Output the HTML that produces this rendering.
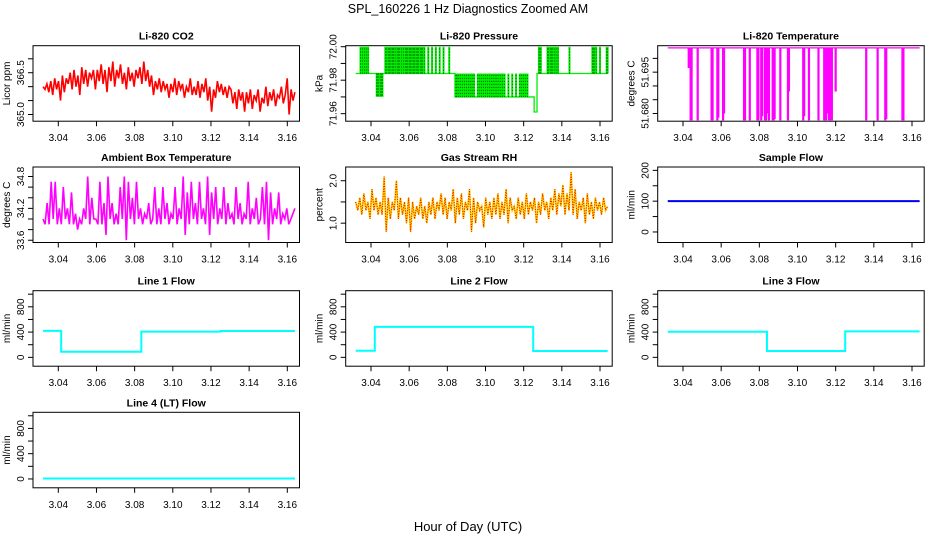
<!DOCTYPE html>
<html><head><meta charset="utf-8"><style>
html,body{margin:0;padding:0;background:#fff;}
svg{display:block;font-family:"Liberation Sans",sans-serif;}
</style></head><body>
<svg id="chart" width="936" height="540" viewBox="0 0 936 540" xmlns="http://www.w3.org/2000/svg">
<text x="468" y="13" font-size="12.5" text-anchor="middle">SPL_160226  1 Hz Diagnostics Zoomed AM</text>
<text x="468" y="531" font-size="13" text-anchor="middle">Hour of Day (UTC)</text>
</svg>
<script>
// ---- data arrays ----
const xTicks = [3.04, 3.06, 3.08, 3.10, 3.12, 3.14, 3.16];
const tStart = 3.032, tEnd = 3.164;
const co2Values = [366.0,365.9,366.1,365.8,366.2,365.7,366.3,365.9,366.2,365.5,366.4,365.8,366.3,
366.1,366.5,365.9,366.6,366.0,366.4,365.7,366.7,366.1,366.6,366.0,366.5,366.3,
366.6,365.9,366.6,366.2,366.8,366.1,366.6,365.8,366.7,366.2,366.9,366.0,366.6,
366.3,366.8,366.1,366.5,365.9,366.7,366.2,366.5,366.0,366.6,366.3,366.7,366.1,
366.9,366.2,366.6,366.0,366.4,365.7,366.2,365.9,366.3,365.8,366.2,365.9,366.1,
365.6,366.1,365.8,366.3,365.7,366.2,365.9,366.1,365.6,366.0,365.8,366.3,365.7,
366.0,365.7,366.2,365.6,366.1,365.8,366.3,365.5,366.0,365.1,365.9,365.6,366.2,
365.8,366.1,365.7,366.0,365.6,366.0,365.9,365.4,365.8,365.2,365.9,365.5,365.8,
365.1,365.8,365.4,365.9,365.2,365.7,365.5,365.9,365.1,365.6,365.4,366.0,365.3,
365.8,365.5,365.9,365.3,365.7,365.6,366.0,365.4,365.7,366.3,365.0,365.9,365.5,365.8];
const ambientValues = [34.0,33.9,34.3,33.9,34.7,34.0,34.7,33.9,34.2,33.9,34.6,34.0,34.2,
33.9,34.5,33.9,34.1,33.8,34.0,33.9,34.2,34.0,34.8,33.9,34.4,34.0,34.0,
33.9,34.7,33.9,34.3,33.7,34.8,34.0,34.3,33.9,34.1,33.9,34.6,34.0,34.8,
33.6,34.7,34.0,34.4,33.9,34.7,34.0,34.2,33.9,34.1,34.0,34.3,33.9,34.0,
34.6,33.9,34.2,33.9,34.6,34.0,34.3,33.9,34.1,34.0,34.6,33.9,34.2,34.0,
34.8,33.7,34.5,33.9,34.7,34.0,34.3,33.9,34.7,34.0,34.2,33.9,34.8,33.7,
34.5,34.0,34.6,33.9,34.2,34.0,34.6,33.9,34.3,34.0,34.1,33.9,34.6,34.0,
34.3,33.9,34.1,34.0,34.7,33.9,34.2,34.0,34.4,33.9,34.0,34.6,33.9,34.7,
33.6,34.5,33.9,34.2,34.0,34.5,33.9,34.1,34.0,34.2,33.9,34.0,34.1,34.2];
const rhValues = [1.5,1.3,1.6,1.2,1.7,1.3,1.5,1.1,1.8,1.3,1.6,1.2,1.5,
1.2,2.1,0.8,1.6,1.1,1.5,1.3,2.0,1.1,1.6,1.2,1.5,1.0,1.6,
0.8,1.5,1.1,1.4,1.2,1.6,1.1,1.4,1.0,1.5,1.2,1.6,1.1,1.5,
1.3,1.7,1.2,1.6,1.1,1.5,1.3,1.8,1.0,1.6,1.2,1.7,1.1,1.5,
1.3,1.8,0.8,1.6,1.0,1.5,1.3,1.4,0.9,1.6,1.2,1.5,1.1,1.6,
1.2,1.7,1.1,1.5,1.2,1.8,1.0,1.6,1.3,1.4,1.1,1.6,1.2,1.5,
1.1,1.7,1.2,1.5,1.3,1.6,1.0,1.5,1.2,1.7,1.3,1.5,1.1,1.6,
1.3,1.8,1.2,1.7,1.4,1.9,1.2,1.7,1.3,2.2,1.2,1.8,1.1,1.5,
1.3,1.6,1.0,1.7,1.2,1.5,1.1,1.6,1.3,1.5,1.2,1.6,1.3,1.4];
const pressBaseT = [3.032, 3.084, 3.1255, 3.127, 3.164];
const pressBaseV = [71.984, 71.970, 71.961, 71.984];
const pressUpT = [3.0345,3.0355,3.0365,3.0375,3.0385,3.0475,3.048,3.049,3.0495,3.050,3.051,3.0515,3.052,3.053,3.054,3.0545,3.055,3.056,3.057,3.058,3.0585,3.059,3.060,3.0605,3.061,3.062,3.0625,3.063,3.064,3.0645,3.065,3.066,3.0665,3.067,3.068,3.070,3.072,3.074,3.076,3.078,3.081,3.128,3.1285,3.129,3.1325,3.133,3.134,3.1345,3.135,3.136,3.137,3.138,3.144,3.156,3.1565,3.157,3.158,3.160,3.1635,3.164];
const pressDownT = [3.043,3.0435,3.044,3.045,3.0455,3.046];
const pressMidT = [3.0845,3.085,3.086,3.087,3.088,3.089,3.090,3.091,3.092,3.093,3.094,3.096,3.097,3.098,3.099,3.100,3.101,3.102,3.103,3.104,3.105,3.106,3.107,3.108,3.109,3.110,3.112,3.114,3.116,3.118,3.119,3.120,3.121,3.122];
const tempBase = 51.7038;
const tempDropT = [3.043,3.044,3.0445,3.0477,3.055,3.0555,3.058,3.0585,3.061,3.0615,3.072,3.0725,3.075,3.079,3.0795,3.081,3.0815,3.083,3.0835,3.084,3.085,3.087,3.0875,3.088,3.091,3.095,3.0955,3.103,3.1035,3.106,3.111,3.114,3.1145,3.115,3.116,3.1165,3.117,3.118,3.120,3.136,3.142,3.146,3.1465,3.155,3.1555];
const tempDropV = [51.6965,51.6775,51.6775,51.6775,51.6775,51.6775,51.6775,51.6785,51.6775,51.6800,51.6775,51.6775,51.6775,51.6775,51.6775,51.6775,51.6790,51.6775,51.6775,51.6800,51.6775,51.6775,51.6775,51.6780,51.6775,51.6775,51.6880,51.6775,51.6790,51.6775,51.6775,51.6775,51.6775,51.6775,51.6800,51.6775,51.6775,51.6775,51.6880,51.6775,51.6775,51.6775,51.6780,51.6775,51.6775];
const sampleFlowT = [3.032, 3.164];
const sampleFlowV = [100];
const line1T = [3.032, 3.0415, 3.0835, 3.125, 3.164];
const line1V = [420, 88, 408, 418];
const line2T = [3.032, 3.042, 3.125, 3.164];
const line2V = [105, 482, 100];
const line3T = [3.032, 3.084, 3.125, 3.164];
const line3V = [405, 100, 412];
const line4T = [3.032, 3.164];
const line4V = [8];

const NS = "http://www.w3.org/2000/svg";
const svg = document.getElementById('chart');
function mk(tag, attrs, parent) {
  const e = document.createElementNS(NS, tag);
  for (const k in attrs) e.setAttribute(k, attrs[k]);
  (parent || svg).appendChild(e);
  return e;
}
const colL = [33, 345.7, 657.7];
const rowT = [45.7, 167, 290.7, 412.3];
const W = 266.5, H = 75.5;

function panel(col, row, name, title, ylab, d0, d1, ticks, labels) {
  const L = colL[col], T = rowT[row], B = T + H;
  const g = mk('g', {});
  
  
  const sx = t => L + 25.3 + (t - 3.04) * (229 / 0.12);
  const sy = v => B - (v - d0) / (d1 - d0) * H;
  const tt = mk('text', {x: L + W / 2, y: T - 6, 'font-size': 10.5, 'font-weight': 'bold', 'text-anchor': 'middle'}, g);
  tt.textContent = title;
  
  
  const yl = mk('text', {transform: `translate(${L - 23},${T + H / 2}) rotate(-90)`, 'font-size': 10, 'text-anchor': 'middle'}, g);
  yl.textContent = ylab;
  
  
  ticks.forEach(v => {
    const y = sy(v);
    const tk = mk('line', {x1: L - 5, x2: L, y1: y, y2: y, stroke: '#000', 'stroke-width': 1}, g);
    
    
  });
  labels.forEach(lb => {
    const y = sy(lb[0]);
    const tx = mk('text', {transform: `translate(${L - 9},${y}) rotate(-90)`, 'font-size': 10, 'text-anchor': 'middle'}, g);
    tx.textContent = lb[1];
    
    
  });
  xTicks.forEach(t => {
    const x = sx(t);
    const tk = mk('line', {x1: x, x2: x, y1: B, y2: B + 5, stroke: '#000', 'stroke-width': 1}, g);
    
    
    const tx = mk('text', {x: x, y: B + 20, 'font-size': 10, 'text-anchor': 'middle'}, g);
    tx.textContent = t.toFixed(2);
    
    
  });
  const plot = mk('g', {}, g);
  
  
  const box = mk('rect', {x: L, y: T, width: W, height: H, fill: 'none', stroke: '#000', 'stroke-width': 1}, g);
  
  
  return {g: plot, sx, sy};
}
function seriesPts(vals, p) {
  const n = vals.length;
  return vals.map((v, i) => p.sx(tStart + (tEnd - tStart) * i / (n - 1)).toFixed(1) + ',' + p.sy(v).toFixed(1)).join(' ');
}
function stepPts(T, V, p) {
  let pts = [];
  V.forEach((v, i) => { pts.push(p.sx(T[i]) + ',' + p.sy(v)); pts.push(p.sx(T[i + 1]) + ',' + p.sy(v)); });
  return pts.join(' ');
}

let p = panel(0, 0, 'co2', 'Li-820 CO2', 'Licor ppm', 364.76, 367.47, [365, 365.5, 366, 366.5, 367], [[365, '365.0'], [366.5, '366.5']]);
let s = mk('polyline', {points: seriesPts(co2Values, p), fill: 'none', stroke: '#ff0000', 'stroke-width': 1.6}, p.g);



p = panel(1, 0, 'pressure', 'Li-820 Pressure', 'kPa', 71.9555, 72.0006, [71.96, 71.97, 71.98, 71.99, 72.00], [[71.96, '71.96'], [71.98, '71.98'], [72.00, '72.00']]);
let pd = '';
pressUpT.forEach(t => { pd += `M${p.sx(t)},${p.sy(71.984)}V${p.sy(72.0)}`; });
pressDownT.forEach(t => { pd += `M${p.sx(t)},${p.sy(71.984)}V${p.sy(71.970)}`; });
pressMidT.forEach(t => { pd += `M${p.sx(t)},${p.sy(71.970)}V${p.sy(71.984)}`; });
s = mk('polyline', {points: stepPts(pressBaseT, pressBaseV, p), fill: 'none', stroke: '#00ee00', 'stroke-width': 1.3}, p.g);


s = mk('path', {d: pd, fill: 'none', stroke: '#00ee00', 'stroke-width': 2}, p.g);


s = mk('path', {d: pd, fill: 'none', stroke: '#000', 'stroke-width': 0.6, 'stroke-dasharray': '1 2'}, p.g);



p = panel(2, 0, 'li820-temp', 'Li-820 Temperature', 'degrees C', 51.6772, 51.7046, [51.680, 51.685, 51.690, 51.695, 51.700], [[51.680, '51.680'], [51.695, '51.695']]);
s = mk('path', {d: `M${p.sx(tStart)},${p.sy(tempBase)}H${p.sx(tEnd)}`, fill: 'none', stroke: '#ff00ff', 'stroke-width': 1.2}, p.g);


let td = '';
tempDropT.forEach((t, i) => { td += `M${p.sx(t)},${p.sy(tempBase)}V${p.sy(tempDropV[i])}`; });
s = mk('path', {d: td, fill: 'none', stroke: '#ff00ff', 'stroke-width': 2.2}, p.g);



p = panel(0, 1, 'ambient-temp', 'Ambient Box Temperature', 'degrees C', 33.5575, 34.979, [33.6, 33.8, 34.0, 34.2, 34.4, 34.6, 34.8], [[33.6, '33.6'], [34.2, '34.2'], [34.8, '34.8']]);
s = mk('polyline', {points: seriesPts(ambientValues, p), fill: 'none', stroke: '#ff00ff', 'stroke-width': 1.6}, p.g);



p = panel(1, 1, 'rh', 'Gas Stream RH', 'percent', 0.545, 2.323, [1.0, 1.5, 2.0], [[1.0, '1.0'], [2.0, '2.0']]);
s = mk('polyline', {points: seriesPts(rhValues, p), fill: 'none', stroke: '#ffcc00', 'stroke-width': 1.8}, p.g);


s = mk('polyline', {points: seriesPts(rhValues, p), fill: 'none', stroke: '#e00000', 'stroke-width': 0.9, 'stroke-dasharray': '1 1.5'}, p.g);



p = panel(2, 1, 'sample-flow', 'Sample Flow', 'ml/min', -34.2, 210.9, [0, 50, 100, 150, 200], [[0, '0'], [100, '100'], [200, '200']]);
s = mk('polyline', {points: stepPts(sampleFlowT, sampleFlowV, p), fill: 'none', stroke: '#0000ee', 'stroke-width': 2}, p.g);



const flowTicks = [0, 200, 400, 600, 800, 1000];
const flowLabels = [[0, '0'], [400, '400'], [800, '800']];
[[0, 2, 'line1-flow', 'Line 1 Flow', line1T, line1V],
 [1, 2, 'line2-flow', 'Line 2 Flow', line2T, line2V],
 [2, 2, 'line3-flow', 'Line 3 Flow', line3T, line3V],
 [0, 3, 'line4-flow', 'Line 4 (LT) Flow', line4T, line4V]].forEach(c => {
  const pp = panel(c[0], c[1], c[2], c[3], 'ml/min', -140, 1055, flowTicks, flowLabels);
  const ln = mk('polyline', {points: stepPts(c[4], c[5], pp), fill: 'none', stroke: '#00ffff', 'stroke-width': 2}, pp.g);
  
  
});
</script>
</body></html>
